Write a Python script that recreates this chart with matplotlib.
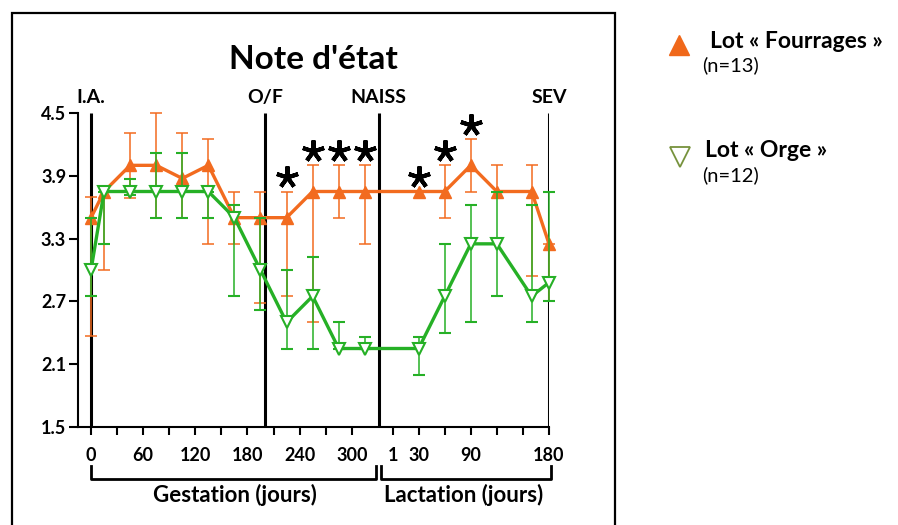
import matplotlib
matplotlib.use('Agg')
import matplotlib.pyplot as plt
import matplotlib.transforms as mtransforms
from matplotlib.patches import Rectangle
from matplotlib.lines import Line2D
import numpy as np

plt.rcParams['font.family'] = ['Lato', 'DejaVu Sans']
plt.rcParams['font.weight'] = 'bold'

# jours de gestation, puis jours de lactation
gest_days = [0, 15, 45, 75, 105, 135, 165, 195, 225, 255, 285, 315]
lact_days = [30, 60, 90, 120, 160, 180]
lact_start = 347  # place of lactation day 1 on the axis

# lot Fourrages (n=13)
fourrages = [3.5, 3.75, 4.0, 4.0, 3.875, 4.0, 3.5, 3.5, 3.5, 3.75, 3.75, 3.75,
	3.75, 3.75, 4.0, 3.75, 3.75, 3.25]
fourrages_lo = [2.37, 3.0, 3.69, 3.5, 3.5, 3.25, 3.25, 2.68, 2.75, 2.5, 3.5, 3.25,
	3.75, 3.5, 3.75, 3.75, 2.94, 2.7]
fourrages_hi = [3.7, 3.75, 4.31, 4.5, 4.31, 4.25, 3.75, 3.75, 3.75, 4.0, 4.0, 4.0,
	3.75, 4.0, 4.25, 4.0, 4.0, 3.25]

# lot Orge (n=12)
orge = [3.0, 3.75, 3.75, 3.75, 3.75, 3.75, 3.5, 3.0, 2.5, 2.75, 2.25, 2.25,
	2.25, 2.75, 3.25, 3.25, 2.75, 2.88]
orge_lo = [2.75, 3.25, 3.72, 3.5, 3.5, 3.5, 2.75, 2.62, 2.25, 2.25, 2.25, 2.25,
	2.0, 2.4, 2.5, 2.75, 2.5, 2.7]
orge_hi = [3.5, 3.75, 3.87, 4.12, 4.12, 3.75, 3.62, 3.5, 3.0, 3.12, 2.5, 2.36,
	2.36, 3.25, 3.62, 3.75, 3.62, 3.75]

# points with a significant difference
stars_idx = [8, 9, 10, 11, 12, 13, 14]

events = ['I.A.', 'O/F', 'NAISS', 'SEV']
events_x = [0, 200, 331, lact_start + 180]

gest_ticks = list(range(0, 301, 30))
gest_labels = ['0', '', '60', '', '120', '', '180', '', '240', '', '300']
lact_ticks = [0, 30, 60, 90, 120, 150, 180]
lact_labels = ['1', '30', '', '90', '', '', '180']
y_ticks = [1.5, 2.1, 2.7, 3.3, 3.9, 4.5]

orange = '#F26B1F'
green = '#26B026'

W, H = 898, 525
fx = lambda px: px / W
fy = lambda py: 1 - py / H

fig = plt.figure(figsize=(W / 100, H / 100), dpi=100)
ax = fig.add_axes([fx(78), fy(427), fx(549) - fx(78), fy(113) - fy(427)])

x = np.array(gest_days + [lact_start + d for d in lact_days])
f = np.array(fourrages)
o = np.array(orge)

ax.vlines(events_x, 1.5, 4.5, color='black', lw=2.2, zorder=1)
for lab, ex in zip(events, events_x):
	ax.text(ex, 4.595, lab, ha='center', va='baseline', fontsize=14, fontweight='bold', clip_on=False)

ax.errorbar(x, f, yerr=[f - np.array(fourrages_lo), np.array(fourrages_hi) - f],
	color=orange, lw=2.4, marker='^', ms=8, elinewidth=1.1, capsize=4.5, capthick=1.1,
	clip_on=False, zorder=3)
ax.errorbar(x, o, yerr=[o - np.array(orge_lo), np.array(orge_hi) - o],
	color=green, lw=2.4, marker='v', ms=9, mfc='white', mec=green, mew=1.5,
	elinewidth=1.1, capsize=4.5, capthick=1.1, clip_on=False, zorder=4)

sx = x[stars_idx]
sy = np.array(fourrages_hi)[stars_idx] + 0.14
ax.plot(sx, sy, ls='none', marker=(5, 2, 0), ms=16, mew=2.9, color='black', clip_on=False, zorder=5)

ax.set_xlim(-15, lact_start + 180)
ax.set_ylim(1.5, 4.5)
ax.set_xticks(gest_ticks + [lact_start + t for t in lact_ticks])
ax.set_xticklabels(gest_labels + lact_labels)
ax.set_yticks(y_ticks)
ax.set_yticklabels([f'{v:.1f}' for v in y_ticks])
ax.tick_params(axis='y', length=6.5, width=1.5, pad=2, labelsize=13)
ax.tick_params(axis='x', length=5.5, width=1.5, pad=9, labelsize=13)
for s in ['top', 'right']:
	ax.spines[s].set_visible(False)
for s in ['left', 'bottom']:
	ax.spines[s].set_linewidth(1.5)

# brackets under the axis
tr = mtransforms.blended_transform_factory(ax.transData, fig.transFigure)
br_y, br_top = fy(479), fy(466)
for a, b in [(events_x[0], events_x[2] - 3), (events_x[2] + 3, events_x[3] + 2)]:
	ax.plot([a, a, b, b], [br_top, br_y, br_y, br_top], color='black', lw=2, transform=tr, clip_on=False)
ax.text((events_x[0] + events_x[2]) / 2, fy(502), 'Gestation (jours)', ha='center', va='baseline',
	fontsize=16, fontweight='bold', transform=tr)
ax.text((events_x[2] + events_x[3]) / 2, fy(502), 'Lactation (jours)', ha='center', va='baseline',
	fontsize=16, fontweight='bold', transform=tr)

fig.text(fx(313), fy(69), "Note d'état", ha='center', va='baseline', fontsize=24, fontweight='bold')

# frame round the chart
fig.add_artist(Rectangle((fx(12), -0.1), fx(615) - fx(12), fy(13) + 0.1, fill=False,
	lw=1.6, edgecolor='black', transform=fig.transFigure, clip_on=False))

# legend
fig.add_artist(Line2D([fx(679)], [fy(45)], marker='^', ms=15, color='#F0681A', ls='none',
	transform=fig.transFigure))
fig.text(fx(710), fy(48), 'Lot « Fourrages »', fontsize=16.5, fontweight='bold', va='baseline')
fig.text(fx(702), fy(71), '(n=13)', fontsize=14.5, fontweight='normal', va='baseline')
fig.add_artist(Line2D([fx(680)], [fy(157)], marker='v', ms=15, mfc='white', mec='#76923C', mew=1.3,
	ls='none', transform=fig.transFigure))
fig.text(fx(705), fy(157), 'Lot « Orge »', fontsize=16.5, fontweight='bold', va='baseline')
fig.text(fx(702), fy(181), '(n=12)', fontsize=14.5, fontweight='normal', va='baseline')

fig.savefig('out.png', dpi=100)
